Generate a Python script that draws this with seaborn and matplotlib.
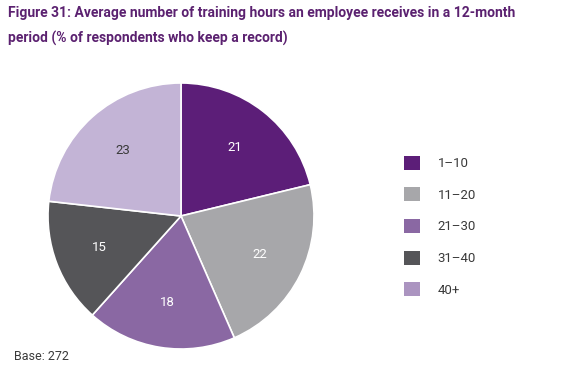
import matplotlib
matplotlib.use("Agg")
import matplotlib.pyplot as plt
import matplotlib.patches as mpatches
import seaborn as sns

# data
categories = ["1\u201310", "11\u201320", "21\u201330", "31\u201340", "40+"]
shares = [21, 22, 18, 15, 23]
slice_colors = ["#5c1e78", "#a7a7aa", "#8a68a3", "#555558", "#c3b4d6"]
legend_colors = ["#5c1e78", "#a7a7aa", "#8a68a3", "#555558", "#ab94c0"]
label_colors = ["white", "white", "white", "white", "#3a3a3a"]

title = ("Figure 31: Average number of training hours an employee receives in a 12-month\n"
         "period (% of respondents who keep a record)")
base_note = "Base: 272"

sns.set_style("white")
plt.rcParams["font.family"] = ["Roboto", "DejaVu Sans"]

fig = plt.figure(figsize=(5.78, 3.72), dpi=100)
ax = fig.add_axes([48 / 578, 23 / 372, 266 / 578, 266 / 372])

wedges, texts = ax.pie(
    shares,
    colors=slice_colors,
    startangle=90,
    counterclock=False,
    labels=[str(v) for v in shares],
    labeldistance=0.66,
    wedgeprops=dict(edgecolor="white", linewidth=1.2),
    textprops=dict(fontsize=9.5),
)
for t, c in zip(texts, label_colors):
    t.set_color(c)
    t.set_ha("center")
    t.set_va("center")
ax.set_xlim(-1, 1)
ax.set_ylim(-1, 1)
ax.set_aspect("equal")
ax.axis("off")

handles = [mpatches.Patch(facecolor=c, edgecolor="none") for c in legend_colors]
fig.legend(handles, categories, loc="upper left", bbox_to_anchor=(392 / 578, 1 - 144 / 372),
           frameon=False, fontsize=9.5, handlelength=1.25, handleheight=1.25,
           labelspacing=1.3, handletextpad=1.3, labelcolor="#3a3a3a")

fig.text(8 / 578, 1 - 6 / 372, title, ha="left", va="top", fontsize=10,
         fontweight="bold", color="#5b2170", linespacing=1.95)
fig.text(14 / 578, 1 - 357 / 372, base_note, ha="left", va="center", fontsize=9,
         color="#3a3a3a")

fig.savefig("out.png", dpi=100)
